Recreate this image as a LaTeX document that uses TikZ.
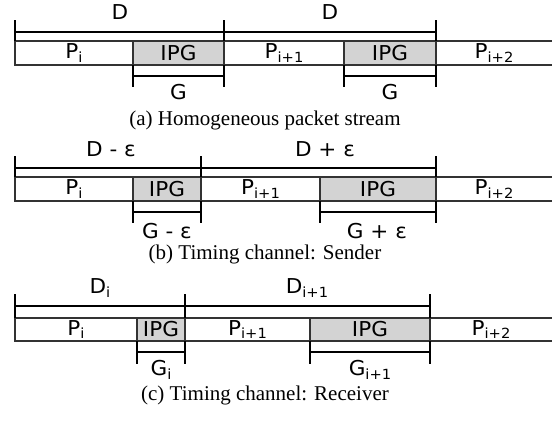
\documentclass[tikz,border=0pt]{standalone}
\usepackage{fontspec}
\setmainfont{Liberation Serif}
\newfontfamily\lblfont[FakeStretch=1.05]{DejaVu Sans}
\usetikzlibrary{positioning}
\newcommand{\lo}[1]{\raisebox{-.35ex}{\fontsize{14}{15}\selectfont #1}}
\definecolor{ipggray}{HTML}{D3D3D3}
\definecolor{barline}{HTML}{333333}

\begin{document}
\begin{tikzpicture}[x=1pt,y=-1pt,
  seg/.style={inner sep=0pt,outer sep=0pt,minimum height=24pt,
              font=\lblfont\fontsize{20.5}{22}\selectfont},
  ipg/.style={seg,draw=barline,line width=1.3pt,fill=ipggray},
  bar/.style={draw=barline,line width=1.3pt},
  span/.style={line width=1.9pt},
  lbl/.style={inner sep=0pt,font=\lblfont\fontsize{20.5}{22}\selectfont},
  subcap/.style={inner sep=0pt,font=\fontsize{21}{24}\selectfont}]

\useasboundingbox (0,0) rectangle (552,421);

% (a)
\node[seg,minimum width=118pt,anchor=north west] (aP1) at (15,41) {P\lo{i}};
\node[ipg,minimum width=91pt,right=0pt of aP1] (aG1) {IPG};
\node[seg,minimum width=120pt,right=0pt of aG1] (aP2) {P\lo{i+1}};
\node[ipg,minimum width=92pt,right=0pt of aP2] (aG2) {IPG};
\node[seg,minimum width=116pt,right=0pt of aG2] (aP3) {P\lo{i+2}};
\draw[bar] (aP3.north east) -- (aP1.north west) -- (aP1.south west) -- (aP3.south east);

\draw[span] (aP1.north west) -- ++(0,-21);
\draw[span] (aG1.north east) -- ++(0,-21);
\draw[span] (aG2.north east) -- ++(0,-21);
\draw[span] ([yshift=9.3pt]aP1.north west) -- ([yshift=9.3pt]aG2.north east);
\draw[span] (aG1.south west) -- ++(0,21.7);
\draw[span] (aG1.south east) -- ++(0,21.7);
\draw[span] ([yshift=-11pt]aG1.south west) -- ([yshift=-11pt]aG1.south east);
\draw[span] (aG2.south west) -- ++(0,21.7);
\draw[span] (aG2.south east) -- ++(0,21.7);
\draw[span] ([yshift=-11pt]aG2.south west) -- ([yshift=-11pt]aG2.south east);

\node[lbl] (aD1) at (120,12.5) {D};
\node[lbl] (aD2) at (330,12.5) {D};
\node[lbl] (aL1) at (178.5,92.5) {G};
\node[lbl] (aL2) at (390,92.5) {G};
\node[subcap] (aCap) at (265,120) {(a) Homogeneous packet stream};

% (b)
\node[seg,minimum width=118pt,anchor=north west] (bP1) at (15,177) {P\lo{i}};
\node[ipg,minimum width=68pt,right=0pt of bP1] (bG1) {IPG};
\node[seg,minimum width=119pt,right=0pt of bG1] (bP2) {P\lo{i+1}};
\node[ipg,minimum width=116pt,right=0pt of bP2] (bG2) {IPG};
\node[seg,minimum width=116pt,right=0pt of bG2] (bP3) {P\lo{i+2}};
\draw[bar] (bP3.north east) -- (bP1.north west) -- (bP1.south west) -- (bP3.south east);

\draw[span] (bP1.north west) -- ++(0,-21.3);
\draw[span] (bG1.north east) -- ++(0,-21.3);
\draw[span] (bG2.north east) -- ++(0,-21.3);
\draw[span] ([yshift=9.3pt]bP1.north west) -- ([yshift=9.3pt]bG2.north east);
\draw[span] (bG1.south west) -- ++(0,21.7);
\draw[span] (bG1.south east) -- ++(0,21.7);
\draw[span] ([yshift=-10.7pt]bG1.south west) -- ([yshift=-10.7pt]bG1.south east);
\draw[span] (bG2.south west) -- ++(0,21.7);
\draw[span] (bG2.south east) -- ++(0,21.7);
\draw[span] ([yshift=-10.7pt]bG2.south west) -- ([yshift=-10.7pt]bG2.south east);

\node[lbl] (bD1) at (111,149) {D - ε};
\node[lbl] (bD2) at (325,149) {D + ε};
\node[lbl] (bL1) at (167,231) {G - ε};
\node[lbl] (bL2) at (377,231) {G + ε};
\node[subcap] (bCap) at (265,254) {(b) Timing channel: Sender};

% (c)
\node[seg,minimum width=122pt,minimum height=23pt,anchor=north west] (cP1) at (15,318) {P\lo{i}};
\node[ipg,minimum width=48pt,minimum height=23pt,right=0pt of cP1] (cG1) {IPG};
\node[seg,minimum width=125pt,minimum height=23pt,right=0pt of cG1] (cP2) {P\lo{i+1}};
\node[ipg,minimum width=120pt,minimum height=23pt,right=0pt of cP2] (cG2) {IPG};
\node[seg,minimum width=122pt,minimum height=23pt,right=0pt of cG2] (cP3) {P\lo{i+2}};
\draw[bar] (cP3.north east) -- (cP1.north west) -- (cP1.south west) -- (cP3.south east);

\draw[span] (cP1.north west) -- ++(0,-24);
\draw[span] (cG1.north east) -- ++(0,-24);
\draw[span] (cG2.north east) -- ++(0,-24);
\draw[span] ([yshift=12pt]cP1.north west) -- ([yshift=12pt]cG2.north east);
\draw[span] (cG1.south west) -- ++(0,22.6);
\draw[span] (cG1.south east) -- ++(0,22.6);
\draw[span] ([yshift=-11pt]cG1.south west) -- ([yshift=-11pt]cG1.south east);
\draw[span] (cG2.south west) -- ++(0,22.6);
\draw[span] (cG2.south east) -- ++(0,22.6);
\draw[span] ([yshift=-11pt]cG2.south west) -- ([yshift=-11pt]cG2.south east);

\node[lbl] (cD1) at (100,288) {D\lo{i}};
\node[lbl] (cD2) at (307,288) {D\lo{i+1}};
\node[lbl] (cL1) at (161,370) {G\lo{i}};
\node[lbl] (cL2) at (370,370) {G\lo{i+1}};
\node[subcap] (cCap) at (265,395) {(c) Timing channel: Receiver};

\end{tikzpicture}
\end{document}
